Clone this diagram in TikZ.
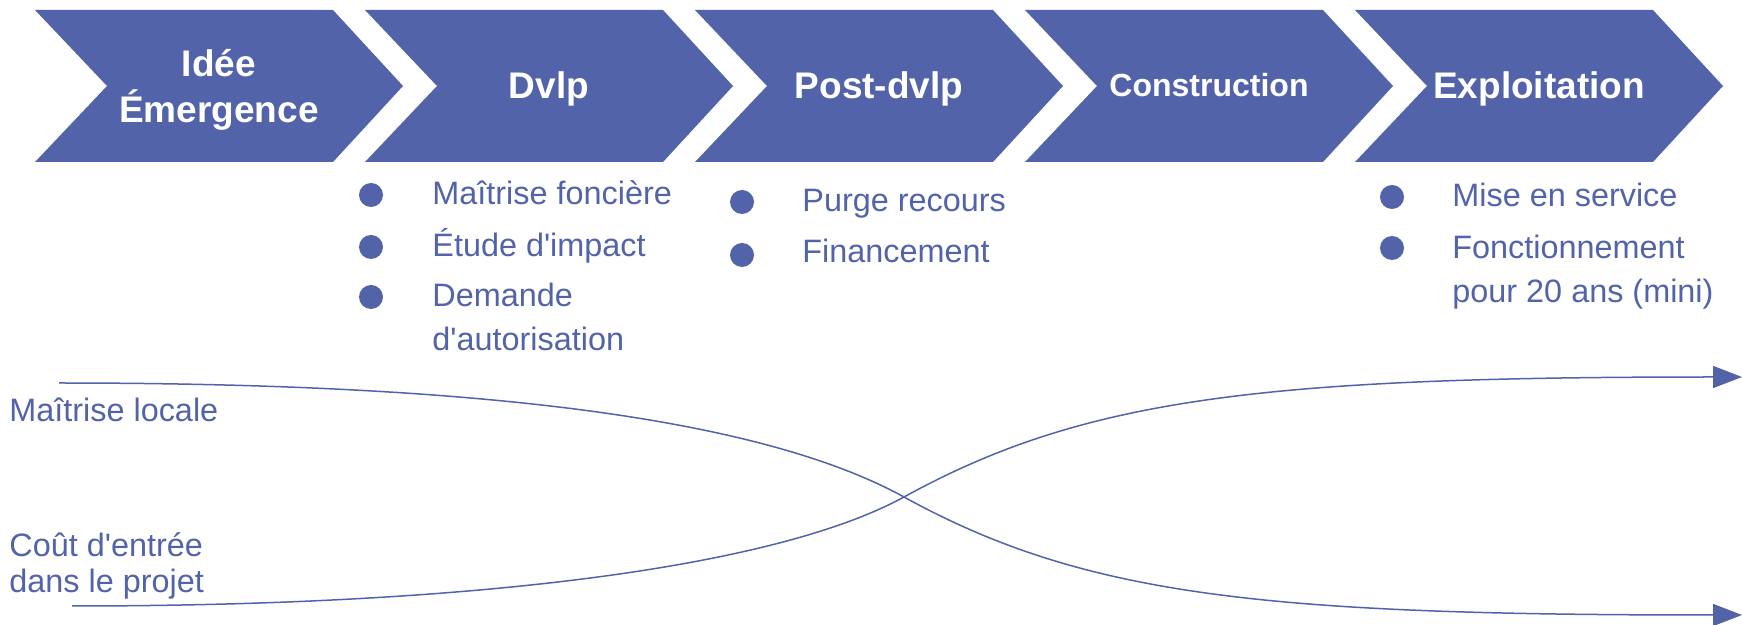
\documentclass[tikz,border=0pt]{standalone}
\usepackage{fontspec}
\setmainfont{Liberation Sans}[Ligatures=TeXOff]
\usetikzlibrary{arrows.meta}
\definecolor{cblue}{RGB}{83,99,170}
\begin{document}
\begin{tikzpicture}[x=0.5pt,y=-0.5pt,
  chev/.style={fill=cblue,draw=none},
  ttl/.style={text=white,font=\bfseries\fontsize{18.5}{23}\selectfont,align=center,inner sep=0},
  item/.style={text=cblue,font=\fontsize{16.2}{22}\selectfont,anchor=base west,inner sep=0,align=left},
  lbl/.style={text=cblue,font=\fontsize{16.2}{18}\selectfont,anchor=base west,inner sep=0,align=left},
  dot/.style={circle,fill=cblue,minimum size=12pt,inner sep=0},
  curve/.style={draw=cblue,line width=0.75pt,-{Triangle[length=14.5pt,width=11pt]}}]
\useasboundingbox (0,0) rectangle (1742,625);
% chevrons
\foreach \x in {35,365,695,1025,1355}{
  \fill[chev] (\x,10) -- (\x+298,10) -- (\x+368,86) -- (\x+298,162) -- (\x,162) -- (\x+72,86) -- cycle;
}
\node[ttl,anchor=base] (t1) at (219,123) {Idée\\Émergence};
\node[ttl,anchor=base] (t2) at (549,99) {Dvlp};
\node[ttl,anchor=base] (t3) at (879,99) {Post-dvlp};
\node[ttl,anchor=base,font=\bfseries\fontsize{16}{20}\selectfont] (t4) at (1209,97) {Construction};
\node[ttl,anchor=base] (t5) at (1539,99) {Exploitation};
% column 1
\node[dot] (d11) at (371,195) {};
\node[dot] (d12) at (371,247) {};
\node[dot] (d13) at (371,297) {};
\node[item] (i11) at (432,205) {Maîtrise foncière};
\node[item] (i12) at (432,257) {Étude d'impact};
\node[item] (i13) at (432,351) {Demande\\d'autorisation};
% column 2
\node[dot] (d21) at (742,202) {};
\node[dot] (d22) at (742,255) {};
\node[item] (i21) at (802,212) {Purge recours};
\node[item] (i22) at (802,263) {Financement};
% column 3
\node[dot] (d31) at (1392,197) {};
\node[dot] (d32) at (1392,248) {};
\node[item] (i31) at (1452,207) {Mise en service};
\node[item] (i32) at (1452,303) {Fonctionnement\\pour 20 ans (mini)};
% left labels
\node[lbl] (l1) at (9,422) {Maîtrise locale};
\node[lbl] (l2) at (9,593) {Coût d'entrée\\dans le projet};
% curves
\coordinate (a0) at (59,383);
\coordinate (b0) at (72,606);
\coordinate (cx) at (904,497);
\coordinate (aE) at (1742,615);
\coordinate (bE) at (1742,377);
\draw[curve] (a0) .. controls (459,383) and (754,414.5) .. (cx) .. controls (1084,596) and (1262,615) .. (1712,615) -- (aE);
\draw[curve] (b0) .. controls (472,606) and (774,568) .. (cx) .. controls (1084,398) and (1262,377) .. (1712,377) -- (bE);
\end{tikzpicture}
\end{document}
